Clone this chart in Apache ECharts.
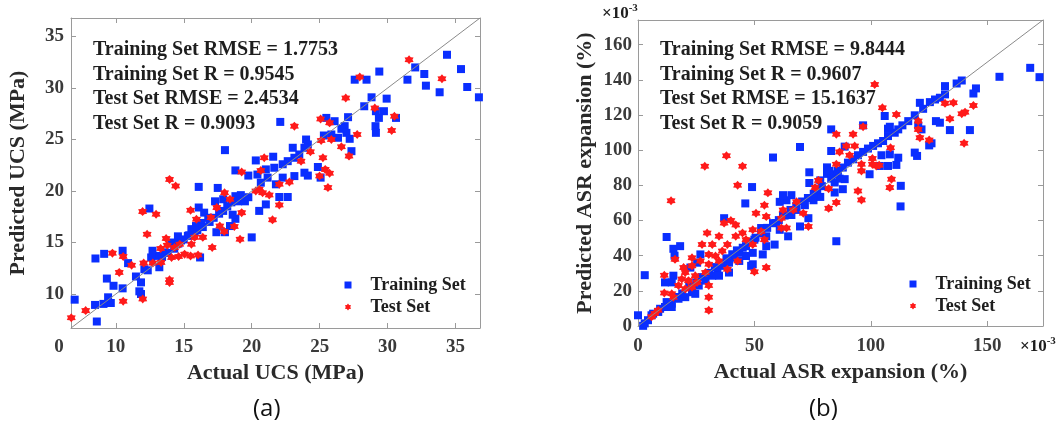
<!DOCTYPE html>
<html>
<head>
<meta charset="UTF-8">
<title>UCS and ASR expansion: actual vs predicted</title>
<style>
  html, body { margin: 0; padding: 0; background: #fff; }
  #chart { width: 1063px; height: 432px; }
</style>
</head>
<body>
<div id="chart"></div>
<script src="https://cdn.jsdelivr.net/npm/echarts@6/dist/echarts.min.js"></script>
<script>
// ---- (a) UCS, MPa ----
const ucsRange = [6.7, 36.8];
const ucsTicks = [10, 15, 20, 25, 30, 35];
const ucsStats = [
  'Training Set RMSE = 1.7753',
  'Training Set R = 0.9545',
  'Test Set RMSE = 2.4534',
  'Test Set R = 0.9093'
];
// [actual, predicted]
const ucsTrain = [
  [18.03,23.97],[18.8,22.0],[19.75,21.5],[16.1,20.4],[17.5,20.3],[17.3,19.0],[17.9,19.2],[18.8,19.5],
  [19.0,19.0],[19.5,19.0],[19.75,19.4],[12.47,18.3],[16.1,18.4],[16.5,17.9],[16.8,17.4],[16.3,16.9],
  [15.9,16.6],[15.56,16.3],[15.8,16.0],[15.3,15.65],[14.57,15.6],[14.8,15.2],[14.1,15.0],[13.6,14.04],
  [13.1,13.7],[12.7,14.2],[13.2,12.6],[12.6,13.55],[12.1,12.4],[12.35,12.3],[17.4,16.0],[18.03,16.0],
  [18.4,16.6],[18.8,17.3],[18.6,17.7],[17.9,18.07],[20.0,15.5],[16.2,13.55],[10.5,14.2],[9.14,13.9],
  [8.5,13.45],[10.9,13.0],[9.34,11.5],[9.83,10.8],[10.5,10.55],[11.48,11.7],[11.85,11.13],[11.73,10.26],
  [11.85,10.0],[9.63,9.13],[9.09,9.04],[8.47,8.94],[9.43,9.68],[6.97,9.45],[8.6,7.33],
  [13.4,13.6],[13.8,14.0],[14.3,14.4],[14.6,14.9],[15.0,15.3],[15.4,15.7],[16.0,16.2],[16.4,16.5],
  [16.9,17.0],[17.2,17.4],[17.6,17.8],[18.2,18.5],[18.5,18.9],[19.2,19.6],
  [34.37,33.23],[32.03,32.0],[32.7,31.36],[35.4,31.84],[31.46,30.81],[32.82,30.23],[33.83,29.59],[35.86,30.1],
  [36.72,29.1],[29.39,31.6],[27.58,30.81],[28.45,30.81],[28.82,29.1],[29.93,28.97],[28.28,28.23],[29.14,27.75],
  [29.73,27.75],[29.36,27.1],[30.62,27.1],[29.11,26.3],[29.14,25.65],[27.09,27.17],[25.49,27.1],[26.1,26.78],
  [26.84,26.3],[26.6,26.04],[26.97,25.65],[27.21,25.07],[27.34,23.87],[26.35,25.17],[25.86,25.49],[25.31,25.39],
  [22.1,26.71],[24.0,25.0],[24.13,24.52],[23.88,24.2],[23.02,24.2],[23.5,23.55],[23.14,23.23],[22.65,22.9],
  [22.28,22.6],[21.66,22.26],[21.58,23.33],[21.04,22.1],[20.3,22.97],[20.42,21.6],[21.17,21.3],[22.28,21.3],
  [23.14,21.45],[23.88,21.78],[24.13,21.5],[24.87,22.33],[25.07,21.3],[22.03,19.42],[22.65,19.42],[21.04,18.7],
  [20.55,18.07],[21.78,20.65],[20.67,20.81]
];
const ucsTest = [
  [19.26,21.84],[13.95,21.13],[14.4,20.49],[18.0,19.84],[18.4,19.2],[19.26,17.9],[11.97,18.0],[12.96,17.74],
  [15.5,18.13],[15.93,17.26],[17.43,18.39],[17.0,17.42],[17.65,16.6],[18.72,16.55],[17.98,16.07],[19.14,15.32],
  [17.09,14.52],[12.3,15.81],[13.7,15.39],[13.78,14.74],[14.32,14.52],[14.7,14.84],[15.56,14.84],[15.8,15.5],
  [16.4,15.5],[13.3,14.42],[15.06,13.87],[15.5,13.7],[16.05,13.78],[14.62,13.65],[14.1,13.55],[13.33,13.07],
  [12.72,13.0],[13.95,11.39],[13.95,11.13],[9.75,13.97],[10.54,13.65],[11.16,12.8],[12.05,13.0],[10.25,12.1],
  [11.98,9.52],[10.54,9.29],[7.78,8.39],[6.72,7.7],
  [31.58,32.75],[34.0,30.9],[27.95,31.07],[26.92,29.04],[29.06,28.07],[30.5,27.26],[30.3,25.87],[25.07,27.0],
  [25.73,26.62],[23.14,26.3],[25.86,25.0],[25.11,24.91],[27.76,25.49],[26.6,24.3],[27.16,23.39],[24.32,23.81],
  [25.24,23.23],[23.63,22.9],[25.41,22.1],[25.73,21.72],[24.99,21.45],[25.61,20.33],[20.92,23.23],[20.67,22.0],
  [22.77,20.88],[22.03,20.65],[20.55,20.17],[20.3,20.0],[20.8,19.84],[21.29,19.62],[22.03,18.65],[21.53,17.2]
];

// ---- (b) ASR expansion, values in 1e-3 % ----
const asrRange = [0, 174];
const asrTicksX = [0, 50, 100, 150];
const asrTicksY = [0, 20, 40, 60, 80, 100, 120, 140, 160];
const asrStats = [
  'Training Set RMSE = 9.8444',
  'Training Set R = 0.9607',
  'Test Set RMSE = 15.1637',
  'Test Set R = 0.9059'
];
const asrTrain = [
  [69.6,101.8],[58.0,95.8],[49.0,79.0],[46.1,69.7],[37.0,61.3],[12.3,50.6],[73.6,87.4],[73.6,81.3],
  [78.3,82.8],[81.2,86.5],[85.2,48.2],[75.4,71.5],[78.3,73.4],[71.7,68.7],[68.1,66.0],[65.9,63.1],
  [63.8,71.5],[60.9,70.6],[62.3,63.1],[59.4,58.5],[60.9,54.7],[64.5,51.0],[58.7,46.3],[55.1,51.0],
  [55.1,45.4],[53.6,40.7],[49.3,41.6],[49.3,35.1],[69.6,56.6],[73.2,61.3],[52.9,55.7],[50.0,49.1],
  [46.4,45.4],[43.5,41.6],[41.3,38.8],[39.1,36.0],[36.2,34.2],[34.1,31.4],[31.9,28.6],[29.0,25.8],
  [26.1,23.0],[23.2,19.2],[20.3,16.4],[17.4,15.5],[14.5,12.7],[11.6,10.8],[8.7,8.0],[5.8,6.1],
  [4.3,3.3],[2.9,1.5],[2.2,0.1],[0,6.1],[2.9,28.9],[15.2,43.9],[18.1,45.4],[15.7,40.0],
  [26.8,40.7],[25.4,36.0],[22.5,33.2],[15.2,28.6],[14.5,24.8],[11.6,24.8],[24.6,18.3],[14.5,10.8],
  [12.3,13.6],[34.8,28.6],[39.1,30.4],[43.5,37.0],[48.6,34.2],[46.4,39.8],[62.3,74.4],[65.9,74.4],
  [81.2,90.2],
  [6.5,7.0],[9.5,9.8],[13.0,12.5],[16.0,16.5],[19.0,18.5],[22.0,22.5],[25.0,24.8],[27.5,27.8],
  [30.5,30.2],[33.0,33.5],[35.5,35.8],[38.0,38.5],[40.5,40.8],[42.5,43.0],[45.0,44.5],[47.5,47.8],
  [50.5,50.2],[53.0,52.8],[55.5,55.8],[58.0,58.5],[60.5,60.2],[63.0,62.8],[65.5,66.0],[68.0,68.3],
  [70.5,70.8],[73.0,72.8],[75.5,75.2],[77.0,77.5],[79.0,79.5],
  [168.5,146.8],[172.5,141.5],[155.3,141.7],[139.1,139.6],[136.9,137.9],[145.2,135.1],[144.1,132.2],[131.9,136.4],
  [131.9,131.7],[129.7,129.8],[127.6,128.8],[125.4,127.3],[121.1,126.9],[122.5,123.5],[118.9,119.8],[116.1,116.5],
  [113.6,114.1],[111.8,111.8],[110.3,109.9],[107.4,112.2],[120.4,114.1],[121.8,111.8],[128.0,116.5],[129.7,115.6],
  [134.0,111.4],[142.6,111.4],[126.1,103.9],[118.9,98.6],[119.9,96.7],[107.4,108.0],[105.3,105.2],[103.1,103.9],
  [101.0,102.4],[98.8,100.9],[96.7,99.0],[94.5,97.1],[92.4,94.8],[90.2,92.9],[88.0,90.1],[85.9,88.2],
  [84.7,86.3],[83.0,83.8],[84.5,81.6],[86.6,83.8],[88.8,83.5],[88.0,77.8],[84.5,75.9],[83.0,111.8],
  [83.0,99.5],[88.8,102.0],[96.7,114.1],[106.0,119.4],[108.2,113.3],[104.6,97.1],[108.2,97.6],[111.8,95.7],
  [111.0,91.6],[107.4,91.0],[103.9,91.0],[99.5,86.3],[125.1,102.7],[112.9,79.7],[112.8,68.0],[82.3,88.2]
];
const asrTest = [
  [38.0,96.8],[28.7,90.8],[44.9,90.8],[42.8,80.0],[14.2,71.2],[55.8,75.7],[76.1,78.7],[77.5,82.8],
  [81.9,78.1],[68.1,70.6],[66.7,66.0],[71.0,64.1],[73.2,56.6],[81.9,66.9],[62.3,66.0],[61.6,61.3],
  [61.6,55.7],[63.8,55.7],[54.3,68.7],[50.7,64.1],[55.1,62.2],[39.9,60.0],[42.0,57.5],[42.0,51.0],
  [44.9,52.9],[46.4,49.1],[49.3,54.7],[52.9,53.8],[54.3,49.1],[49.3,46.3],[29.7,52.9],[34.8,51.0],
  [27.5,46.3],[31.9,46.3],[38.4,46.3],[36.2,42.6],[33.3,39.8],[30.4,40.7],[26.8,37.0],[23.2,38.8],
  [15.9,37.9],[23.2,34.2],[30.4,35.1],[34.8,37.0],[38.4,32.3],[42.8,37.0],[50.0,30.8],[55.1,33.2],
  [19.6,33.2],[20.3,30.4],[24.6,28.6],[29.0,30.4],[18.8,26.7],[21.7,25.8],[25.4,24.8],[30.4,23.0],
  [17.4,23.0],[20.3,21.1],[23.2,22.0],[11.3,28.9],[11.3,18.8],[14.5,18.3],[15.2,16.4],[30.4,16.4],
  [30.4,8.9],[7.2,7.1],[5.8,5.2],[8.7,9.0],[37.0,58.5],
  [101.7,137.3],[105.0,124.1],[111.0,120.3],[96.7,113.3],[131.9,126.6],[135.5,126.9],[144.1,125.4],[134.0,117.9],
  [139.1,120.7],[140.5,121.6],[140.1,103.9],[120.4,116.5],[120.4,111.8],[121.1,107.1],[125.1,105.8],[85.2,109.0],
  [92.4,109.0],[89.5,102.4],[90.9,97.1],[86.6,99.0],[85.2,92.0],[96.0,92.0],[96.0,88.2],[100.7,92.0],
  [102.4,91.0],[103.6,91.4],[100.7,95.2],[108.5,101.4],[108.9,83.5],[108.2,78.7],[94.5,76.8],[96.0,71.7],
  [85.2,70.2],[93.1,102.4]
];

const serif = '"Liberation Serif", "Times New Roman", serif';
const boxColor = '#9a9a9a';
const labelColor = '#3a3a3a';
const textColor = '#1e1e1e';
const blue = '#0a2eff';
const red = '#ff1a1a';
const star = 'path://M10 0L13.25 4.37L18.66 5L16.5 10L18.66 15L13.25 15.63L10 20L6.75 15.63L1.34 15L3.5 10L1.34 5L6.75 4.37Z';

const chart = echarts.init(document.getElementById('chart'));

function labelStyle(extra) {
  return Object.assign({
    fontFamily: serif, fontWeight: 'bold', fontSize: 19, color: labelColor
  }, extra);
}
const nameStyle = { fontFamily: serif, fontWeight: 'bold', fontSize: 22, color: '#2a2a2a' };

// bottom / left axes with labels, top / right copies only carry the inward ticks
function mainAxis(grid, range, ticks, labels, name, gap, margin, extra) {
  return Object.assign({
    gridIndex: grid, type: 'value', min: range[0], max: range[1],
    axisLine: { show: true, lineStyle: { color: boxColor, width: 1 } },
    axisTick: { show: true, inside: true, length: 5, customValues: ticks, lineStyle: { color: boxColor } },
    axisLabel: labelStyle({ customValues: labels, margin: margin }),
    splitLine: { show: false },
    name: name, nameLocation: 'middle', nameGap: gap, nameTextStyle: nameStyle
  }, extra);
}
function mirrorAxis(grid, range, ticks, position) {
  return {
    gridIndex: grid, type: 'value', min: range[0], max: range[1], position: position,
    axisLine: { show: true, onZero: false, lineStyle: { color: boxColor, width: 1 } },
    axisTick: { show: true, inside: true, length: 5, customValues: ticks, lineStyle: { color: boxColor } },
    axisLabel: { show: false },
    splitLine: { show: false }
  };
}

// the reference labels the left end of the UCS x axis with a stray "0"
const ucsXLabels = [ucsRange[0]].concat(ucsTicks);
const ucsX = mainAxis(0, ucsRange, ucsTicks, ucsXLabels, 'Actual UCS (MPa)', 31, 10, { position: 'bottom' });
ucsX.axisLabel.formatter = v => (v === ucsRange[0] ? '{zero|0}' : String(v));
ucsX.axisLabel.rich = { zero: labelStyle({ padding: [0, 24, 0, 0] }) };

function scatter(name, data, xi, yi) {
  const isTrain = name === 'Training Set';
  return {
    name: name, type: 'scatter', xAxisIndex: xi, yAxisIndex: yi, data: data,
    symbol: isTrain ? 'rect' : star, symbolSize: isTrain ? 8 : 9,
    itemStyle: { color: isTrain ? blue : red, opacity: 1 },
    clip: false, silent: true, z: isTrain ? 2 : 3
  };
}
function diagonal(range, xi, yi) {
  return {
    type: 'line', xAxisIndex: xi, yAxisIndex: yi, data: [[range[0], range[0]], [range[1], range[1]]],
    symbol: 'none', silent: true, z: 4,
    lineStyle: { color: '#8a8a8a', width: 1 }
  };
}
function legendAt(left, top) {
  return {
    orient: 'vertical', left: left, top: top, padding: 0, itemGap: 4,
    itemWidth: 7, itemHeight: 7, selectedMode: false,
    data: [{ name: 'Training Set', icon: 'rect' }, { name: 'Test Set', icon: star }],
    textStyle: { fontFamily: serif, fontWeight: 'bold', fontSize: 18, color: textColor, padding: [0, 0, 0, 14] }
  };
}
function statsTitle(lines, left) {
  return {
    text: lines.join('\n'), left: left, top: 38, padding: 0,
    textStyle: { fontFamily: serif, fontWeight: 'bold', fontSize: 20, lineHeight: 24.5, color: textColor }
  };
}
const powRich = {
  b: { fontFamily: serif, fontWeight: 'bold', fontSize: 17, color: textColor, verticalAlign: 'bottom', lineHeight: 19 },
  s: { fontFamily: serif, fontWeight: 'bold', fontSize: 11, color: textColor, verticalAlign: 'top', lineHeight: 19 }
};
function powTitle(left, top) {
  return { text: '{b|×10}{s|-3}', left: left, top: top, padding: 0, textStyle: { rich: powRich } };
}
function capTitle(text, left) {
  return {
    text: text, left: left, top: 397, padding: 0,
    textStyle: { fontFamily: '"Open Sans", sans-serif', fontWeight: 'normal', fontSize: 24, color: '#111' }
  };
}

chart.setOption({
  animation: false,
  backgroundColor: '#fff',
  grid: [
    { left: 71, top: 18, width: 409, height: 310, show: false, outerBoundsMode: 'none' },
    { left: 638, top: 20, width: 405, height: 306, show: false, outerBoundsMode: 'none' }
  ],
  xAxis: [
    ucsX,
    mirrorAxis(0, ucsRange, ucsTicks, 'top'),
    mainAxis(1, asrRange, asrTicksX, asrTicksX, 'Actual ASR expansion (%)', 33, 11, { position: 'bottom' }),
    mirrorAxis(1, asrRange, asrTicksX, 'top')
  ],
  yAxis: [
    mainAxis(0, ucsRange, ucsTicks, ucsTicks, 'Predicted UCS (MPa)', 42, 7, { position: 'left' }),
    mirrorAxis(0, ucsRange, ucsTicks, 'right'),
    mainAxis(1, asrRange, asrTicksY, asrTicksY, 'Predicted ASR expansion (%)', 42, 6, { position: 'left' }),
    mirrorAxis(1, asrRange, asrTicksY, 'right')
  ],
  legend: [legendAt(344.5, 276), legendAt(909.5, 275)],
  title: [
    statsTitle(ucsStats, 93),
    statsTitle(asrStats, 660),
    powTitle(602, 3),
    powTitle(1020, 336),
    capTitle('(a)', 253),
    capTitle('(b)', 809)
  ],
  series: [
    scatter('Training Set', ucsTrain, 0, 0),
    scatter('Test Set', ucsTest, 0, 0),
    diagonal(ucsRange, 0, 0),
    scatter('Training Set', asrTrain, 2, 2),
    scatter('Test Set', asrTest, 2, 2),
    diagonal(asrRange, 2, 2)
  ]
});
</script>
</body>
</html>
